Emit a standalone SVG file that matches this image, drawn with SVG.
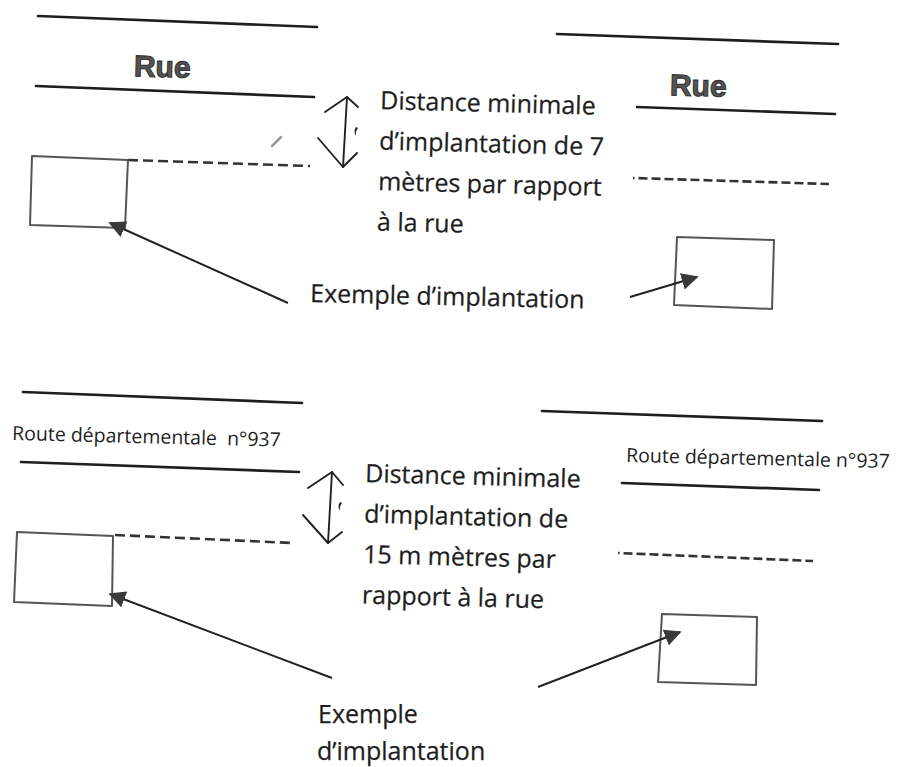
<svg xmlns="http://www.w3.org/2000/svg" width="912" height="767" viewBox="0 0 912 767">
<style>
.road{stroke:#1e1e1e;stroke-width:2.7;fill:none;stroke-linecap:round}
.dash{stroke:#333;stroke-width:2.6;fill:none;stroke-dasharray:10 5}
.bldg{stroke:#555;stroke-width:2;fill:#fff;stroke-linejoin:round}
.lead{stroke:#222;stroke-width:2;fill:none}
.dim{stroke:#222;stroke-width:1.9;fill:none;stroke-linecap:round;stroke-linejoin:round}
.lbl{font-family:"Open Sans","Noto Sans",sans-serif;font-size:25px;fill:#1e1e1e;stroke:#1e1e1e;stroke-width:0.25}
.rd{font-family:"Open Sans","Noto Sans",sans-serif;font-size:19.5px;fill:#1e1e1e;white-space:pre}
.rue{font-family:"Liberation Sans",Arial,sans-serif;font-weight:bold;font-size:30px;fill:#555;stroke:#333;stroke-width:1.1;text-anchor:middle}
.tick{fill:#222}
</style>
<defs>
<marker id="ah2" viewBox="0 0 10 10" refX="9" refY="5" markerWidth="8.5" markerHeight="8.5" orient="auto">
<path d="M0,0 L10,5 L0,10 z" fill="#3a3a3a"/>
</marker>
</defs>
<rect width="912" height="767" fill="#fff"/>

<!-- Top-left panel -->
<g id="road-tl">
<line class="road" x1="38" y1="16" x2="317" y2="27"/>
<line class="road" x1="36" y1="86" x2="314" y2="97"/>
<text class="rue" x="162" y="77" transform="rotate(1.5 162 77)">Rue</text>
</g>
<g id="setback-tl"><line class="dash" x1="128" y1="160" x2="310" y2="166"/></g>
<g id="bldg-tl"><polygon class="bldg" points="32,156 128,160 125,228 30,225"/></g>
<g id="dim-tl">
<line class="dim" x1="347" y1="97" x2="343" y2="167"/>
<polyline class="dim" points="325,112 347,97 358,107"/>
<polyline class="dim" points="318,138 343,167 357,153"/>
<path class="tick" d="M356,127 q-3,4 0,9 q-1,-4 2,-8 z"/>
<path d="M272,146 L281,137" stroke="#9a9a9a" stroke-width="2.5" stroke-linecap="round"/>
</g>
<g id="label-dist-top" class="lbl" transform="rotate(1.5 380 109)">
<text x="380" y="109">Distance minimale</text>
<text x="380" y="149.5">d’implantation de 7</text>
<text x="380" y="190">mètres par rapport</text>
<text x="380" y="230.5">à la rue</text>
</g>
<g id="label-ex-top"><text class="lbl" x="310" y="302" transform="rotate(1.3 310 302)">Exemple d’implantation</text></g>

<!-- Top-right panel -->
<g id="road-tr">
<line class="road" x1="557" y1="34" x2="838" y2="44"/>
<line class="road" x1="637" y1="107" x2="835" y2="114"/>
<text class="rue" x="698" y="96" transform="rotate(1.5 698 96)">Rue</text>
</g>
<g id="setback-tr"><line class="dash" x1="633" y1="178" x2="829" y2="184" style="stroke-dasharray:1.5 4 9 4 9 4 9 4 9 4 9 4 9 4 9 4 9 4 9 4 9 4 9 4 9 4 9 4 9 4 9 4"/></g>
<g id="bldg-tr"><polygon class="bldg" points="677,237 774,240 772,309 674,305"/></g>

<!-- Bottom-left panel -->
<g id="road-bl">
<line class="road" x1="23" y1="392" x2="302" y2="403"/>
<line class="road" x1="21" y1="462" x2="299" y2="472"/>
<text class="rd" x="12" y="440" transform="rotate(1.4 12 440)">Route départementale  n°937</text>
</g>
<g id="setback-bl"><line class="dash" x1="115" y1="535" x2="293" y2="543"/></g>
<g id="bldg-bl"><polygon class="bldg" points="17,532 113,536 112,606 14,602"/></g>
<g id="dim-bl">
<line class="dim" x1="332" y1="472" x2="328" y2="543"/>
<polyline class="dim" points="308,488 332,472 343,485"/>
<polyline class="dim" points="303,515 328,543 342,532"/>
<path class="tick" d="M340,502 q-3,4 0,9 q-1,-4 2,-8 z"/>
</g>
<g id="label-dist-bot" class="lbl" transform="rotate(1.5 365 482)">
<text x="365" y="482">Distance minimale</text>
<text x="365" y="522.5">d’implantation de</text>
<text x="365" y="563">15 m mètres par</text>
<text x="365" y="603.5">rapport à la rue</text>
</g>
<g id="label-ex-bot" class="lbl">
<text x="318" y="723">Exemple</text>
<text x="317" y="760">d’implantation</text>
</g>

<!-- Bottom-right panel -->
<g id="road-br">
<line class="road" x1="542" y1="411" x2="822" y2="421"/>
<line class="road" x1="622" y1="483" x2="819" y2="490"/>
<text class="rd" x="626" y="462" transform="rotate(1.3 626 462)">Route départementale n°937</text>
</g>
<g id="setback-br"><line class="dash" x1="618" y1="553" x2="813" y2="561" style="stroke-dasharray:1.5 4 9 4 9 4 9 4 9 4 9 4 9 4 9 4 9 4 9 4 9 4 9 4 9 4 9 4 9 4 9 4"/></g>
<g id="bldg-br"><polygon class="bldg" points="662,614 757,617 756,685 658,682"/></g>

<!-- Connectors -->
<g id="connectors">
<line class="lead" x1="288" y1="303" x2="110" y2="223" marker-end="url(#ah2)"/>
<line class="lead" x1="630" y1="297" x2="697" y2="277" marker-end="url(#ah2)"/>
<line class="lead" x1="332" y1="678" x2="110" y2="594" marker-end="url(#ah2)"/>
<line class="lead" x1="538" y1="687" x2="680" y2="632" marker-end="url(#ah2)"/>
</g>
</svg>
